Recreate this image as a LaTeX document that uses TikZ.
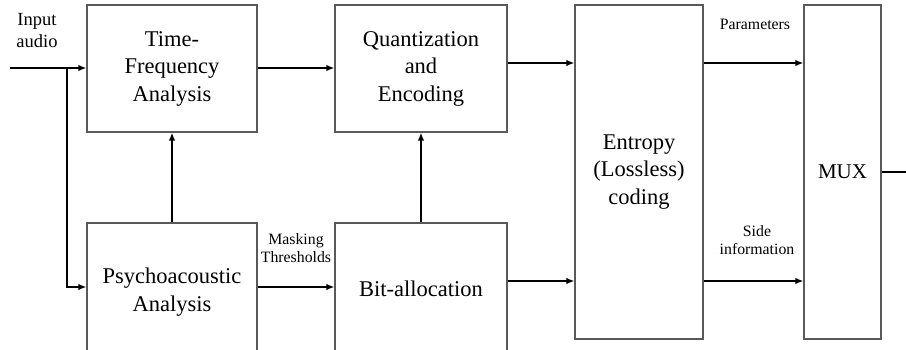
\documentclass[tikz,border=0pt]{standalone}
\usepackage{fontspec}
\setmainfont{Liberation Serif}
\usetikzlibrary{arrows.meta,calc}
\begin{document}
\begin{tikzpicture}[x=1pt,y=-1pt,
  blk/.style={draw=black!65,line width=1.1pt,rectangle,inner sep=0pt,align=center,
    font=\fontsize{22.5}{27.5}\selectfont},
  arr/.style={line width=1.7pt,-{Latex[length=8pt,width=6.5pt]}},
  ln/.style={line width=1.7pt},
  lbl/.style={align=center,inner sep=0pt,font=\fontsize{15.8}{18}\selectfont}]
\useasboundingbox (0,0) rectangle (906,349);
\clip (0,0) rectangle (906,349);
\node[blk,minimum width=170pt,minimum height=127pt] (tf) at (172,68.5) {Time-\\Frequency\\Analysis};
\node[blk,minimum width=172pt,minimum height=127pt] (qe) at (421,68.5) {Quantization\\and\\Encoding};
\node[blk,minimum width=170pt,minimum height=138pt] (psy) at (172,292) {Psychoacoustic\\Analysis};
\node[blk,minimum width=172pt,minimum height=132pt] (bit) at (421,289) {Bit-allocation};
\node[blk,minimum width=128pt,minimum height=334pt] (ent) at (639,172) {Entropy\\(Lossless)\\coding};
\node[blk,minimum width=77pt,minimum height=334pt,font=\fontsize{21}{25}\selectfont] (mux) at (842.5,172) {MUX};
\coordinate (in) at (10,68);
\coordinate (br) at (67,68);
\coordinate (out) at (906,172);
\draw[arr] (in) -- (tf.west |- in);
\draw[arr] (br) |- (psy.west |- 0,287);
\draw[arr] (tf.east |- in) -- (qe.west |- in);
\draw[arr] (psy.north) -- (tf.south);
\draw[arr] (bit.north -| qe.south) -- (qe.south);
\draw[arr] (psy.east |- 0,287) -- (bit.west |- 0,287);
\draw[arr] (qe.east |- 0,63) -- (ent.west |- 0,63);
\draw[arr] (bit.east |- 0,281) -- (ent.west |- 0,281);
\draw[arr] (ent.east |- 0,63) -- (mux.west |- 0,63);
\draw[arr] (ent.east |- 0,281) -- (mux.west |- 0,281);
\draw[ln] (mux.east |- out) -- (out);
\node[lbl,font=\fontsize{18.5}{22}\selectfont] (lin) at (37,31) {Input\\audio};
\node[lbl] (lmask) at (296,248) {Masking\\Thresholds};
\node[lbl] (lpar) at (755,24) {Parameters};
\node[lbl] (lside) at (757,240) {Side\\information};
\end{tikzpicture}
\end{document}
